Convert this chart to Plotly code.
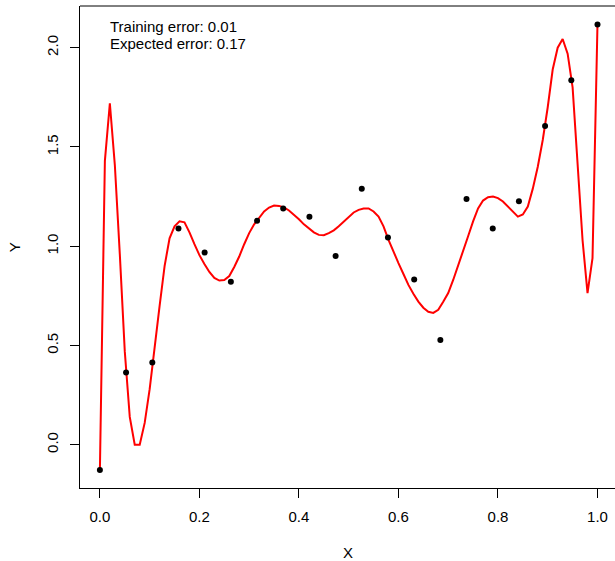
import plotly.graph_objects as go

# observed training points
point_x = [0.0, 0.0526, 0.1053, 0.1579, 0.2105, 0.2632, 0.3158, 0.3684, 0.4211, 0.4737,
           0.5263, 0.5789, 0.6316, 0.6842, 0.7368, 0.7895, 0.8421, 0.8947, 0.9474, 1.0]
point_y = [-0.127, 0.364, 0.414, 1.089, 0.968, 0.821, 1.128, 1.190, 1.149, 0.951,
           1.289, 1.044, 0.832, 0.527, 1.238, 1.089, 1.227, 1.606, 1.836, 2.117]

# fitted curve
curve_x = [0.00, 0.01, 0.02, 0.03, 0.04, 0.05, 0.06, 0.07, 0.08, 0.09,
           0.10, 0.11, 0.12, 0.13, 0.14, 0.15, 0.16, 0.17, 0.18, 0.19,
           0.20, 0.21, 0.22, 0.23, 0.24, 0.25, 0.26, 0.27, 0.28, 0.29,
           0.30, 0.31, 0.32, 0.33, 0.34, 0.35, 0.36, 0.37, 0.38, 0.39,
           0.40, 0.41, 0.42, 0.43, 0.44, 0.45, 0.46, 0.47, 0.48, 0.49,
           0.50, 0.51, 0.52, 0.53, 0.54, 0.55, 0.56, 0.57, 0.58, 0.59,
           0.60, 0.61, 0.62, 0.63, 0.64, 0.65, 0.66, 0.67, 0.68, 0.69,
           0.70, 0.71, 0.72, 0.73, 0.74, 0.75, 0.76, 0.77, 0.78, 0.79,
           0.80, 0.81, 0.82, 0.83, 0.84, 0.85, 0.86, 0.87, 0.88, 0.89,
           0.90, 0.91, 0.92, 0.93, 0.94, 0.95, 0.96, 0.97, 0.98, 0.99, 1.00]
curve_y = [-0.127, 1.43, 1.72, 1.41, 0.96, 0.47, 0.14, 0.00, 0.00, 0.11,
           0.28, 0.50, 0.70, 0.90, 1.04, 1.10, 1.125, 1.12, 1.07, 1.01,
           0.955, 0.91, 0.87, 0.84, 0.827, 0.83, 0.85, 0.895, 0.948, 1.01,
           1.066, 1.11, 1.145, 1.175, 1.195, 1.205, 1.203, 1.195, 1.18, 1.16,
           1.136, 1.11, 1.09, 1.07, 1.057, 1.055, 1.066, 1.08, 1.10, 1.125,
           1.149, 1.17, 1.183, 1.19, 1.19, 1.175, 1.149, 1.10, 1.032, 0.97,
           0.915, 0.86, 0.805, 0.76, 0.721, 0.69, 0.67, 0.664, 0.68, 0.72,
           0.764, 0.83, 0.90, 0.97, 1.05, 1.125, 1.19, 1.23, 1.247, 1.25,
           1.242, 1.225, 1.20, 1.17, 1.149, 1.16, 1.20, 1.29, 1.40, 1.535,
           1.70, 1.89, 2.00, 2.044, 1.97, 1.80, 1.40, 1.03, 0.764, 0.94, 2.12]

x_ticks = [0.0, 0.2, 0.4, 0.6, 0.8, 1.0]
x_tick_labels = ["0.0", "0.2", "0.4", "0.6", "0.8", "1.0"]
y_ticks = [0.0, 0.5, 1.0, 1.5, 2.0]
y_tick_labels = ["0.0", "0.5", "1.0", "1.5", "2.0"]

FONT = "Liberation Sans, Arial, Helvetica, sans-serif"
FS = 15

fig = go.Figure()
fig.add_trace(go.Scatter(x=curve_x, y=curve_y, mode="lines",
                         line=dict(color="#ff0000", width=2), hoverinfo="skip",
                         showlegend=False))
fig.add_trace(go.Scatter(x=point_x, y=point_y, mode="markers",
                         marker=dict(color="black", size=6), showlegend=False))

fig.update_layout(
    width=615, height=561,
    margin=dict(l=80, r=0, t=6, b=73),
    paper_bgcolor="white", plot_bgcolor="white",
    font=dict(family=FONT, size=FS, color="black"),
    xaxis=dict(range=[-0.04, 1.0352], showgrid=False, zeroline=False,
               showline=True, linecolor="black", linewidth=1,
               ticks="outside", ticklen=9, tickcolor="black", tickwidth=1,
               tickvals=x_ticks, ticktext=x_tick_labels,
               tickfont=dict(size=FS), ticklabelstandoff=6),
    yaxis=dict(range=[-0.218, 2.21], showgrid=False, zeroline=False,
               showline=True, linecolor="black", linewidth=1,
               ticks="outside", ticklen=9, tickcolor="black", tickwidth=1,
               tickvals=y_ticks, ticktext=y_tick_labels, tickangle=-90,
               tickfont=dict(size=FS), ticklabelstandoff=6),
    shapes=[dict(type="line", xref="paper", yref="paper", x0=0, x1=1, y0=1, y1=1,
                 line=dict(color="black", width=1))],
    annotations=[
        dict(text="Training error: 0.01", xref="paper", yref="paper",
             x=0.0518, y=0.9585, xanchor="left", yanchor="middle", showarrow=False,
             font=dict(size=FS)),
        dict(text="Expected error: 0.17", xref="paper", yref="paper",
             x=0.0518, y=0.9218, xanchor="left", yanchor="middle", showarrow=False,
             font=dict(size=FS)),
        dict(text="X", xref="paper", yref="paper", x=0.501, y=-0.134,
             xanchor="center", yanchor="middle", showarrow=False, font=dict(size=FS)),
        dict(text="Y", xref="paper", yref="paper", x=-0.123, y=0.5,
             xanchor="center", yanchor="middle", showarrow=False, textangle=-90,
             font=dict(size=FS)),
    ],
)

fig.write_html("out.html")
